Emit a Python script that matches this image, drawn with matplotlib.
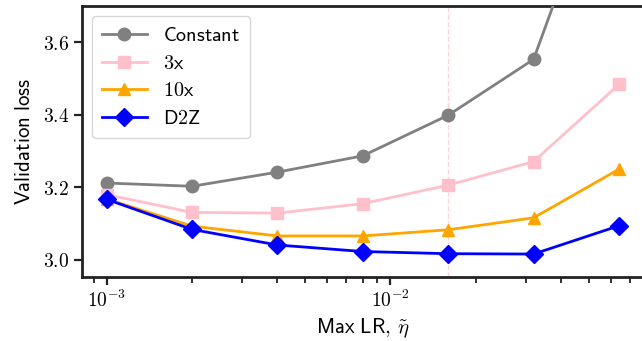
import math

import matplotlib
matplotlib.use("Agg")

import matplotlib.pyplot as plt
from matplotlib.ticker import FuncFormatter, FixedLocator

plt.rcParams["mathtext.fontset"] = "cm"
plt.rcParams["font.family"] = "DejaVu Sans"

# ---- data ----
max_lr = [0.001, 0.002, 0.004, 0.008, 0.016, 0.032, 0.064]
loss_constant = [3.212, 3.203, 3.242, 3.287, 3.399, 3.553, 4.20]
loss_3x = [3.180, 3.131, 3.129, 3.155, 3.206, 3.271, 3.484]
loss_10x = [3.168, 3.093, 3.066, 3.066, 3.083, 3.116, 3.250]
loss_d2z = [3.167, 3.084, 3.041, 3.023, 3.017, 3.016, 3.094]
best_lr = 0.016

series = [
    ("Constant", loss_constant, "grey", "o"),
    ("3x", loss_3x, "pink", "s"),
    ("10x", loss_10x, "orange", "^"),
    ("D2Z", loss_d2z, "blue", "D"),
]

fig = plt.figure(figsize=(6.42, 3.41), dpi=100)
ax = fig.add_axes([0.128, 0.188, 0.875, 0.794])

ax.axvline(best_lr, color="pink", linestyle="--", linewidth=1, alpha=0.7, zorder=1)

for name, vals, col, mk in series:
    ax.plot(max_lr, vals, color=col, marker=mk, markersize=9, linewidth=2,
            label=r"$\mathsf{%s}$" % name, zorder=3)

ax.set_xscale("log")
ax.set_xlim(0.00082, 0.0784)
ax.set_ylim(2.953, 3.70)

ax.yaxis.set_major_locator(FixedLocator([3.0, 3.2, 3.4, 3.6]))
ax.yaxis.set_major_formatter(FuncFormatter(lambda v, p: r"$%.1f$" % v))
ax.xaxis.set_major_formatter(FuncFormatter(lambda v, p: r"$10^{%d}$" % round(math.log10(v))))

ax.set_xlabel(r"$\mathsf{Max\ LR,}\,\tilde{\eta}$", fontsize=15, labelpad=4)
ax.set_ylabel(r"$\mathsf{Validation\ loss}$", fontsize=15, labelpad=6)

for side in ["left", "bottom", "top"]:
    ax.spines[side].set_linewidth(2)
    ax.spines[side].set_color("#222222")
ax.spines["right"].set_visible(False)

ax.tick_params(axis="both", which="major", labelsize=14, length=6, width=1.6, color="#222222")
ax.tick_params(axis="x", which="minor", length=4, width=1.3, color="#222222")

ax.legend(loc="upper left", fontsize=14.5, framealpha=0.8, edgecolor="#cccccc",
          borderpad=0.5, handlelength=2.2, labelspacing=0.42)

fig.savefig("out.png", dpi=100)
plt.close(fig)
